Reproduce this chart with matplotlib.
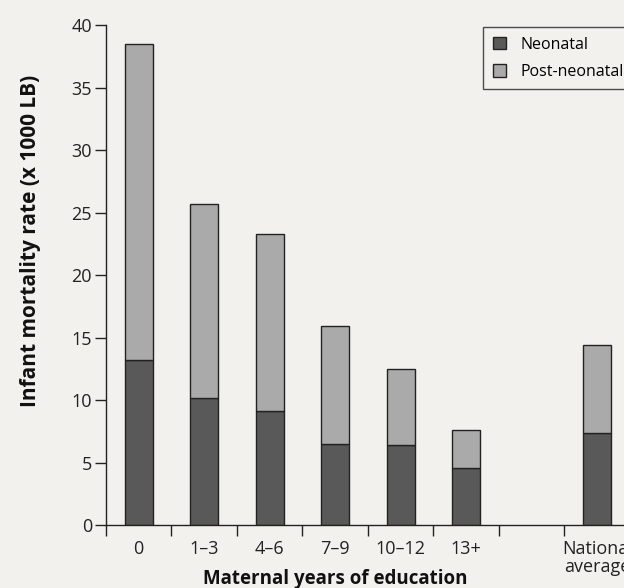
import matplotlib.pyplot as plt
from matplotlib.patches import Patch

categories = ["0", "1\u20133", "4\u20136", "7\u20139", "10\u201312", "13+", "", "National\naverage"]
neonatal = [13.2, 10.2, 9.1, 6.5, 6.4, 4.6, None, 7.4]
total = [38.5, 25.7, 23.3, 15.9, 12.5, 7.6, None, 14.4]

dark = "#595959"
light = "#aaaaaa"
paper = "#f2f1ed"


def plot_chart() -> None:
    """Stacked bars of infant mortality by maternal education."""
    plt.rcParams["font.family"] = ["Open Sans", "DejaVu Sans"]
    fig = plt.figure(figsize=(6.24, 5.88), dpi=100, facecolor=paper)
    ax = fig.add_axes([106 / 624, 1 - 525 / 588, 1 - 106 / 624, 500 / 588])
    ax.set_facecolor(paper)

    xs = [i for i, v in enumerate(neonatal) if v is not None]
    neo = [neonatal[i] for i in xs]
    post = [total[i] - neonatal[i] for i in xs]
    ax.bar(xs, neo, width=0.43, color=dark, edgecolor="#222222", linewidth=1.0)
    ax.bar(xs, post, width=0.43, bottom=neo, color=light,
           edgecolor="#222222", linewidth=1.0)

    ax.set_xlim(-0.5, 7.41)
    ax.set_ylim(0, 40)
    ax.set_yticks(range(0, 41, 5))
    ax.tick_params(axis="y", length=8, width=1.0, labelsize=13, pad=2,
                   colors="#222222")
    ax.set_xticks(range(len(categories)))
    ax.set_xticklabels(categories, fontsize=13, color="#222222",
                       linespacing=1.0)
    ax.tick_params(axis="x", length=0, pad=11)
    ax.set_xticks([i - 0.5 for i in range(len(categories))], minor=True)
    ax.tick_params(axis="x", which="minor", length=8, width=1.0,
                   colors="#222222")

    for side in ("top", "right"):
        ax.spines[side].set_visible(False)
    for side in ("left", "bottom"):
        ax.spines[side].set_color("#222222")
        ax.spines[side].set_linewidth(1.0)

    fig.text(31 / 624, 1 - 241 / 588, "Infant mortality rate (x 1000 LB)",
             fontsize=15, fontweight="bold", color="#111111",
             rotation=90, ha="center", va="center")
    fig.text(335 / 624, 1 - 579 / 588, "Maternal years of education",
             fontsize=13.5, fontweight="bold", color="#111111",
             ha="center", va="center")

    handles = [Patch(facecolor=dark, edgecolor="#222222", label="Neonatal"),
               Patch(facecolor=light, edgecolor="#222222",
                     label="Post-neonatal")]
    leg = fig.legend(handles=handles, loc="upper left",
                     bbox_to_anchor=(483 / 624, 1 - 27 / 588),
                     fontsize=11.5, frameon=True, fancybox=False,
                     handlelength=0.85, handleheight=0.85, handletextpad=0.9,
                     borderpad=0.6, labelspacing=0.7, borderaxespad=0)
    leg.get_frame().set_edgecolor("#222222")
    leg.get_frame().set_facecolor(paper)
    leg.get_frame().set_linewidth(1.0)

    fig.savefig("out.png", dpi=100, facecolor=paper)


def main():
    """Main entry for the program."""
    plot_chart()


if __name__ == "__main__":
    main()
